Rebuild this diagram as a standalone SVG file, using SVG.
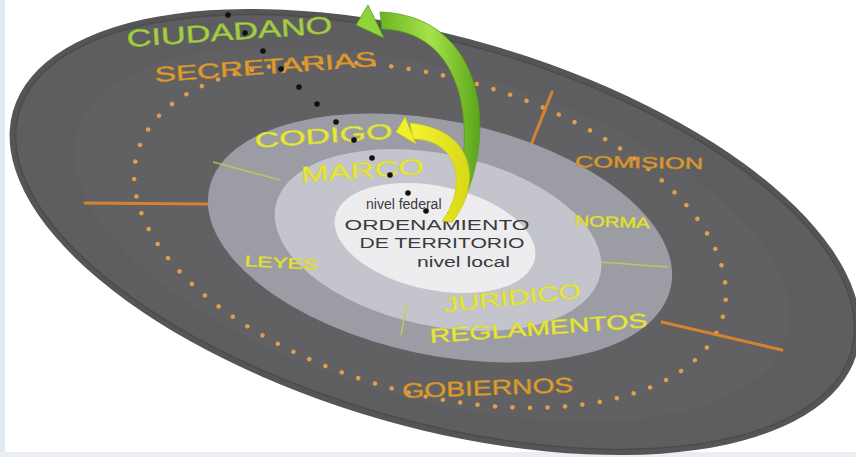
<svg xmlns="http://www.w3.org/2000/svg" width="856" height="457" viewBox="0 0 856 457">
<defs>
<style>
.lbl{font-family:"Liberation Sans",Arial,sans-serif;stroke-width:0.6;}
.org{fill:#e0a034;stroke:#c88a28;}
.yel{fill:#ecec42;stroke:#d4d430;}
.grn{fill:#a8d048;stroke:#90bb38;}
.dark{font-family:"Liberation Sans",Arial,sans-serif;fill:#3a3a3a;}
.div{stroke:#c8d048;stroke-width:1.5;opacity:0.8;}
.tick{stroke:#d9822e;stroke-width:3;stroke-linecap:round;}
.bd{fill:#111;}
</style>
<linearGradient id="gGreen" x1="0" y1="0" x2="1" y2="0">
<stop offset="0" stop-color="#6bb522"/>
<stop offset="0.5" stop-color="#a6e24a"/>
<stop offset="1" stop-color="#5aa51a"/>
</linearGradient>
<linearGradient id="gYel" x1="0" y1="0" x2="1" y2="0">
<stop offset="0" stop-color="#f4f430"/>
<stop offset="1" stop-color="#d8d818"/>
</linearGradient>
</defs>
<rect width="856" height="457" fill="#ffffff"/>
<rect x="0" y="0" width="5" height="457" fill="#e2eaf3"/>
<rect x="0" y="452" width="856" height="5" fill="#e8eef4"/>

<g id="disk-outer">
<ellipse cx="435" cy="232" rx="439" ry="195" transform="rotate(16 435 232)" fill="#555557"/>
<ellipse cx="435" cy="232" rx="433" ry="189" transform="rotate(16 435 232)" fill="#5e5e60" stroke="#4c4c4e" stroke-width="1.5"/>
<ellipse cx="432" cy="234" rx="369" ry="164" transform="rotate(16 432 234)" fill="#616163"/>
</g>

<g id="dotted-ring">
<ellipse cx="430" cy="235" rx="304" ry="158" transform="rotate(15.6 430 235)" fill="none" stroke="#e39e4c" stroke-width="4.5" stroke-linecap="round" stroke-dasharray="0 17.5"/>
<line class="tick" x1="552" y1="92" x2="531" y2="145"/>
<line class="tick" x1="85" y1="203" x2="207" y2="204"/>
<line class="tick" x1="662" y1="322" x2="782" y2="350"/>
</g>

<g id="ring-codigo">
<ellipse cx="440" cy="238" rx="236" ry="117" transform="rotate(12 440 238)" fill="#9c9ca4"/>
</g>
<g id="ring-marco">
<ellipse cx="438" cy="240" rx="166" ry="86" transform="rotate(12 438 240)" fill="#c4c4cc"/>
</g>
<g id="center">
<ellipse cx="435" cy="238" rx="102" ry="52" transform="rotate(12 435 238)" fill="#ededf0"/>
</g>

<g id="dividers">
<line class="div" x1="213" y1="162" x2="280" y2="180"/>
<line class="div" x1="600" y1="262" x2="668" y2="267"/>
<line class="div" x1="407" y1="303" x2="401" y2="335"/>
</g>

<g id="labels">
<text class="lbl grn" x="230" y="40" font-size="24" text-anchor="middle" textLength="206" lengthAdjust="spacingAndGlyphs" transform="rotate(-3.9 230 40)">CIUDADANO</text>
<text class="lbl org" x="266" y="74" font-size="21" text-anchor="middle" textLength="222" lengthAdjust="spacingAndGlyphs" transform="rotate(-4.1 266 74)">SECRETARIAS</text>
<text class="lbl org" x="639" y="168" font-size="16" text-anchor="middle" textLength="128" lengthAdjust="spacingAndGlyphs" transform="rotate(1 639 168)">COMISION</text>
<text class="lbl org" x="488" y="395" font-size="21" text-anchor="middle" textLength="171" lengthAdjust="spacingAndGlyphs" transform="rotate(-2 488 395)">GOBIERNOS</text>
<text class="lbl yel" x="324" y="143" font-size="21" text-anchor="middle" textLength="138" lengthAdjust="spacingAndGlyphs" transform="rotate(-4 324 143)">CODIGO</text>
<text class="lbl yel" x="363" y="178" font-size="22" text-anchor="middle" textLength="123" lengthAdjust="spacingAndGlyphs" transform="rotate(-4 363 178)">MARCO</text>
<text class="lbl yel" x="612" y="227" font-size="15" text-anchor="middle" textLength="75" lengthAdjust="spacingAndGlyphs" transform="rotate(2 612 227)">NORMA</text>
<text class="lbl yel" x="281" y="268" font-size="15" text-anchor="middle" textLength="73" lengthAdjust="spacingAndGlyphs" transform="rotate(3 281 268)">LEYES</text>
<text class="lbl yel" x="513" y="305" font-size="21" text-anchor="middle" textLength="138" lengthAdjust="spacingAndGlyphs" transform="rotate(-6.2 513 305)">JURIDICO</text>
<text class="lbl yel" x="539" y="335" font-size="20" text-anchor="middle" textLength="218" lengthAdjust="spacingAndGlyphs" transform="rotate(-4.2 539 335)">REGLAMENTOS</text>
<text class="dark" x="366" y="209" font-size="14">nivel federal</text>
<text class="dark" x="437" y="230" font-size="15" text-anchor="middle" textLength="185" lengthAdjust="spacingAndGlyphs">ORDENAMIENTO</text>
<text class="dark" x="442" y="248" font-size="15" text-anchor="middle" textLength="165" lengthAdjust="spacingAndGlyphs">DE TERRITORIO</text>
<text class="dark" x="417" y="267" font-size="14" textLength="93" lengthAdjust="spacingAndGlyphs">nivel local</text>
</g>

<g id="connectors">
<g id="arrow-green">
<path d="M452,222 C500,150 492,16 380,12 L382,29 C474,32 478,150 447,221 Z" fill="url(#gGreen)" stroke="#5a9a1a" stroke-width="0.8"/>
<polygon points="368,5 356,25 384,38" fill="#8fd43a" stroke="#5a9a1a" stroke-width="0.8"/>
</g>
<g id="arrow-yellow">
<path d="M452,222 C480,190 480,130 410,123 L413,139 C462,140 466,190 442,221 Z" fill="url(#gYel)" stroke="#c8c818" stroke-width="0.6"/>
<polygon points="405,117 396,132 416,144" fill="#f0f028" stroke="#c8c818" stroke-width="0.6"/>
</g>
</g>

<g id="black-dots">
<circle class="bd" cx="228" cy="15" r="2.8"/>
<circle class="bd" cx="245" cy="33" r="2.8"/>
<circle class="bd" cx="263" cy="51" r="2.8"/>
<circle class="bd" cx="281" cy="69" r="2.8"/>
<circle class="bd" cx="299" cy="87" r="2.8"/>
<circle class="bd" cx="317" cy="104" r="2.8"/>
<circle class="bd" cx="336" cy="122" r="2.8"/>
<circle class="bd" cx="354" cy="140" r="2.8"/>
<circle class="bd" cx="372" cy="158" r="2.8"/>
<circle class="bd" cx="390" cy="175" r="2.8"/>
<circle class="bd" cx="408" cy="193" r="2.8"/>
<circle class="bd" cx="426" cy="211" r="2.8"/>
</g>
</svg>
